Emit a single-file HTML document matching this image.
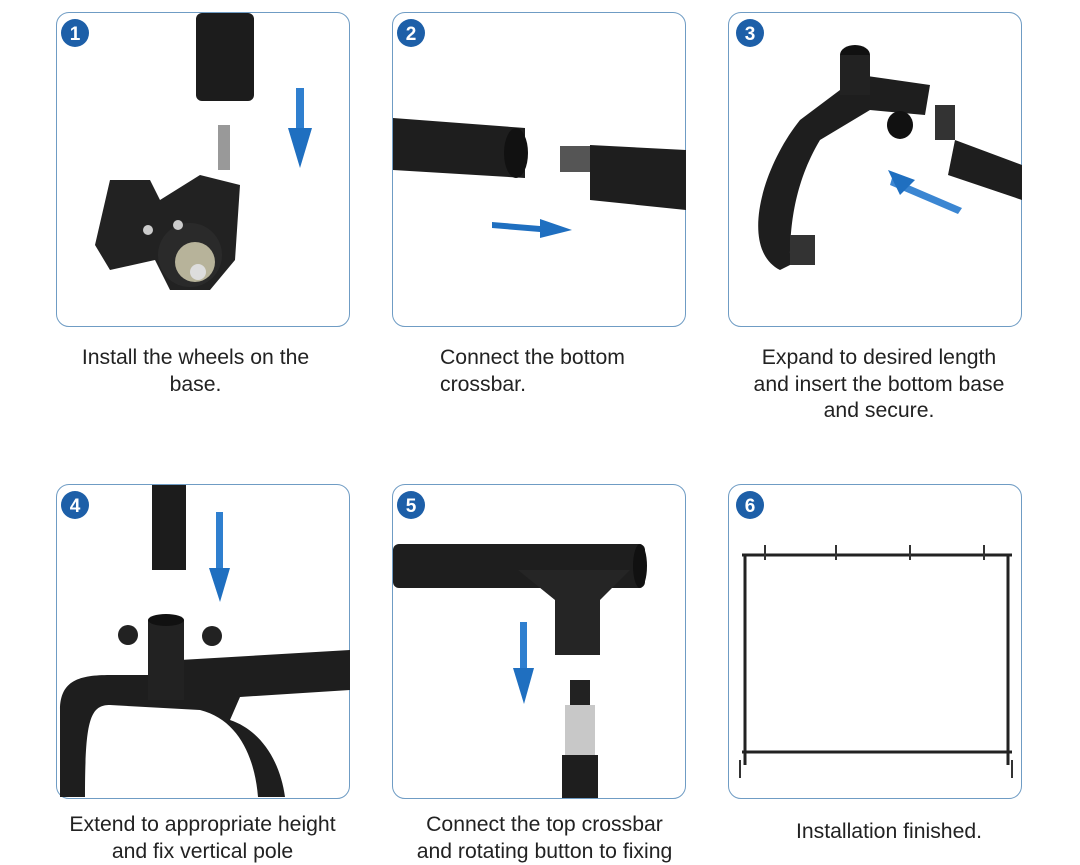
<!DOCTYPE html>
<html><head><meta charset="utf-8"><style>
body{margin:0;width:1080px;height:853px;background:#fff;position:relative;overflow:hidden;font-family:"Liberation Sans",sans-serif;}
.p{position:absolute;width:294px;height:315px;border:1.5px solid #6f9cc4;border-radius:13px;box-sizing:border-box;}
.c{position:absolute;font-size:21.2px;color:#222;line-height:26.5px;text-align:center;}
svg{position:absolute;left:0;top:0}
</style></head><body>
<div class="p" style="left:56px;top:12px"></div>
<div class="p" style="left:392px;top:12px"></div>
<div class="p" style="left:728px;top:12px"></div>
<div class="p" style="left:56px;top:484px"></div>
<div class="p" style="left:392px;top:484px"></div>
<div class="p" style="left:728px;top:484px"></div>
<svg width="1080" height="853">
<g fill="#1d5fa8"><circle cx="75" cy="33" r="14"/><circle cx="411" cy="33" r="14"/><circle cx="750" cy="33" r="14"/><circle cx="75" cy="505" r="14"/><circle cx="411" cy="505" r="14"/><circle cx="750" cy="505" r="14"/></g>
<g fill="#fff" font-family="Liberation Sans" font-weight="bold" font-size="19" text-anchor="middle"><text x="75" y="40">1</text><text x="411" y="40">2</text><text x="750" y="40">3</text><text x="75" y="512">4</text><text x="411" y="512">5</text><text x="750" y="512">6</text></g>
<!-- panel1 -->
<rect x="196" y="13" width="58" height="88" rx="6" fill="#1c1c1c"/>
<rect x="218" y="125" width="12" height="45" fill="#999"/>
<path d="M95 245 L110 180 L150 180 L160 200 L200 175 L240 185 L235 260 L210 290 L170 290 L155 260 L110 270 Z" fill="#222"/>
<circle cx="190" cy="255" r="32" fill="#2a2a2a"/><circle cx="195" cy="262" r="20" fill="#b7b39a"/><circle cx="198" cy="272" r="8" fill="#ddd"/>
<circle cx="148" cy="230" r="5" fill="#ccc"/><circle cx="178" cy="225" r="5" fill="#ccc"/>
<rect x="296" y="88" width="8" height="42" fill="#2f7fcf"/><path d="M288 128 L312 128 L300 168Z" fill="#1f6fc0"/>
<!-- panel2 -->
<path d="M393 118 L525 128 L525 178 L393 170Z" fill="#1e1e1e"/><ellipse cx="516" cy="153" rx="12" ry="25" fill="#111"/>
<rect x="560" y="146" width="32" height="26" fill="#555"/><path d="M590 145 L686 150 L686 210 L590 200Z" fill="#1e1e1e"/>
<path d="M492 222 L540 226 L540 219 L572 230 L540 238 L540 232 L492 228Z" fill="#1f6fc0"/>
<!-- panel3 -->
<path d="M780 270 C740 250 760 170 800 120 L860 75 L930 85 L925 115 L870 110 L820 140 C790 190 790 240 790 265Z" fill="#1e1e1e"/>
<ellipse cx="855" cy="55" rx="15" ry="10" fill="#111"/><rect x="840" y="55" width="30" height="40" fill="#222"/>
<ellipse cx="900" cy="125" rx="13" ry="14" fill="#111"/>
<path d="M955 140 L1022 165 L1022 200 L948 175Z" fill="#1e1e1e"/>
<path d="M892 178 L962 208 L958 214 L890 185Z" fill="#3b86d2"/><path d="M888 170 L915 180 L900 195Z" fill="#1f6fc0"/>
<rect x="935" y="105" width="20" height="35" fill="#333"/><rect x="790" y="235" width="25" height="30" fill="#333"/>
<!-- panel4 -->
<rect x="152" y="485" width="34" height="85" fill="#1c1c1c"/>
<rect x="216" y="512" width="7" height="60" fill="#2f7fcf"/><path d="M209 568 L230 568 L220 602Z" fill="#1f6fc0"/>
<path d="M60 797 L60 710 C60 680 80 675 110 675 L180 675 L180 660 L350 650 L350 690 L240 697 L230 720 C260 730 280 760 285 797 L258 797 C255 760 240 720 200 710 L110 705 C90 705 85 720 85 797Z" fill="#1e1e1e"/>
<rect x="148" y="620" width="36" height="80" fill="#222"/><ellipse cx="166" cy="620" rx="18" ry="6" fill="#111"/>
<circle cx="128" cy="635" r="10" fill="#222"/><circle cx="212" cy="636" r="10" fill="#222"/>
<!-- panel5 -->
<rect x="393" y="544" width="252" height="44" rx="6" fill="#1e1e1e"/><ellipse cx="640" cy="566" rx="7" ry="22" fill="#111"/>
<path d="M518 570 L630 570 L600 600 L600 655 L555 655 L555 600Z" fill="#252525"/>
<rect x="520" y="622" width="7" height="50" fill="#2f7fcf"/><path d="M513 668 L534 668 L524 704Z" fill="#1f6fc0"/>
<rect x="570" y="680" width="20" height="25" fill="#222"/><rect x="565" y="705" width="30" height="50" fill="#c8c8c8"/><rect x="562" y="755" width="36" height="43" fill="#1e1e1e"/>
<!-- panel6 -->
<g stroke="#222" stroke-width="3" fill="none"><path d="M742 555 L1012 555"/><path d="M745 555 L745 765"/><path d="M1008 555 L1008 765"/><path d="M742 752 L1012 752"/></g>
<g stroke="#333" stroke-width="2"><path d="M765 545 L765 560 M836 545 L836 560 M910 545 L910 560 M984 545 L984 560 M740 760 L740 778 M1012 760 L1012 778"/></g>
</svg>
<div class="c" style="left:39px;width:313px;top:345px">Install the wheels on the<br>base.</div>
<div class="c" style="left:440px;top:345px;text-align:left">Connect the bottom<br>crossbar.</div>
<div class="c" style="left:720px;width:318px;top:345px">Expand to desired length<br>and insert the bottom base<br>and secure.</div>
<div class="c" style="left:36px;width:333px;top:812px">Extend to appropriate height<br>and fix vertical pole</div>
<div class="c" style="left:378px;width:333px;top:812px">Connect the top crossbar<br>and rotating button to fixing</div>
<div class="c" style="left:740px;width:298px;top:819px">Installation finished.</div>
</body></html>
